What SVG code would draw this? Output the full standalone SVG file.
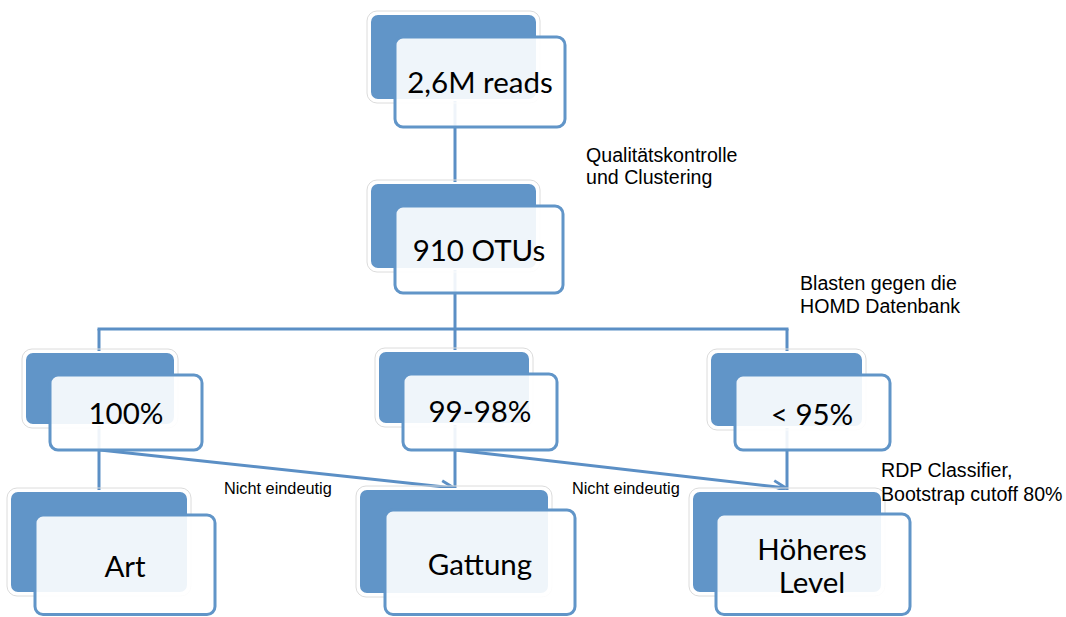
<svg xmlns="http://www.w3.org/2000/svg" width="1066" height="617" viewBox="0 0 1066 617">
<defs>
<style>
.back{fill:#6195C8;stroke:#ffffff;stroke-width:2}
.halo{fill:none;stroke:#dcdcdc;stroke-width:1}
.front{fill:#ffffff;fill-opacity:0.9;stroke:#6195C8;stroke-width:3}
.nt{font-family:Lato,"Open Sans","Liberation Sans",sans-serif;font-size:29.5px;fill:#000;text-anchor:middle}
.lbl{font-family:"Liberation Sans",Arial,sans-serif;font-size:19.6px;fill:#000}
.sm{font-family:"Liberation Sans",Arial,sans-serif;font-size:16.3px;fill:#000}
.con{stroke:#5B8FC5;stroke-width:3;fill:none}
</style>
<marker id="chev" viewBox="0 0 16 16" refX="14.5" refY="8" markerWidth="16" markerHeight="16" markerUnits="userSpaceOnUse" orient="auto">
<path d="M2,2 L14.5,8 L2,14" fill="none" stroke="#5B8FC5" stroke-width="2.8"/>
</marker>
</defs>
<rect width="1066" height="617" fill="#ffffff"/>
<g id="connectors">
<line class="con" x1="455" y1="100" x2="455" y2="183"/>
<line class="con" x1="455" y1="269" x2="455" y2="351"/>
<line class="con" x1="97.5" y1="329" x2="788.5" y2="329"/>
<line class="con" x1="99" y1="329" x2="99" y2="352"/>
<line class="con" x1="787" y1="329" x2="787" y2="352"/>
<line class="con" x1="99" y1="425" x2="99" y2="491"/>
<line class="con" x1="455" y1="424" x2="455" y2="489"/>
<line class="con" x1="787" y1="427" x2="787" y2="491"/>
<line class="con" x1="100" y1="450" x2="454" y2="488" marker-end="url(#chev)"/>
<line class="con" x1="455" y1="450" x2="786" y2="488" marker-end="url(#chev)"/>
</g>
<g id="n-reads">
<rect class="halo" x="367" y="11" width="173" height="92" rx="10"/>
<rect class="back" x="370" y="14" width="167" height="86" rx="8"/>
<rect class="front" x="395" y="37" width="170" height="90" rx="8"/>
<text class="nt" x="480" y="93">2,6M reads</text>
</g>
<g id="n-otus">
<rect class="halo" x="367" y="180" width="173" height="92" rx="10"/>
<rect class="back" x="370" y="183" width="167" height="86" rx="8"/>
<rect class="front" x="395" y="206" width="168" height="87" rx="8"/>
<text class="nt" x="479" y="261">910 OTUs</text>
</g>
<g id="n-100">
<rect class="halo" x="22" y="349" width="156" height="79" rx="10"/>
<rect class="back" x="25" y="352" width="150" height="73" rx="8"/>
<rect class="front" x="50" y="375" width="152" height="75" rx="8"/>
<text class="nt" x="126" y="424">100%</text>
</g>
<g id="n-9998">
<rect class="halo" x="375" y="348" width="158" height="79" rx="10"/>
<rect class="back" x="378" y="351" width="152" height="73" rx="8"/>
<rect class="front" x="403" y="374" width="154" height="76" rx="8"/>
<text class="nt" x="480" y="422">99-98%</text>
</g>
<g id="n-95">
<rect class="halo" x="707" y="349" width="159" height="81" rx="10"/>
<rect class="back" x="710" y="352" width="153" height="75" rx="8"/>
<rect class="front" x="735" y="375" width="155" height="75" rx="8"/>
<text class="nt" x="812" y="425">&lt; 95%</text>
</g>
<g id="n-art">
<rect class="halo" x="7" y="488" width="184" height="108" rx="10"/>
<rect class="back" x="10" y="491" width="178" height="102" rx="8"/>
<rect class="front" x="35" y="515" width="180" height="99.5" rx="8"/>
<text class="nt" x="125" y="577">Art</text>
</g>
<g id="n-gattung">
<rect class="halo" x="356" y="486" width="196" height="111" rx="10"/>
<rect class="back" x="359" y="489" width="190" height="105" rx="8"/>
<rect class="front" x="385" y="510" width="190" height="104.5" rx="8"/>
<text class="nt" x="480" y="575">Gattung</text>
</g>
<g id="n-hoeheres">
<rect class="halo" x="689" y="488" width="196" height="108" rx="10"/>
<rect class="back" x="692" y="491" width="190" height="102" rx="8"/>
<rect class="front" x="716" y="514" width="194" height="100.5" rx="8"/>
<text class="nt" x="812" y="560">Höheres</text>
<text class="nt" x="812" y="593">Level</text>
</g>
<g id="labels">
<text class="lbl" x="586" y="162">Qualitätskontrolle</text>
<text class="lbl" x="586" y="184">und Clustering</text>
<text class="lbl" x="800" y="290">Blasten gegen die</text>
<text class="lbl" x="800" y="313">HOMD Datenbank</text>
<text class="lbl" x="881" y="477">RDP Classifier,</text>
<text class="lbl" x="881" y="501">Bootstrap cutoff 80%</text>
<text class="sm" x="224" y="494">Nicht eindeutig</text>
<text class="sm" x="572" y="494">Nicht eindeutig</text>
</g>
</svg>
